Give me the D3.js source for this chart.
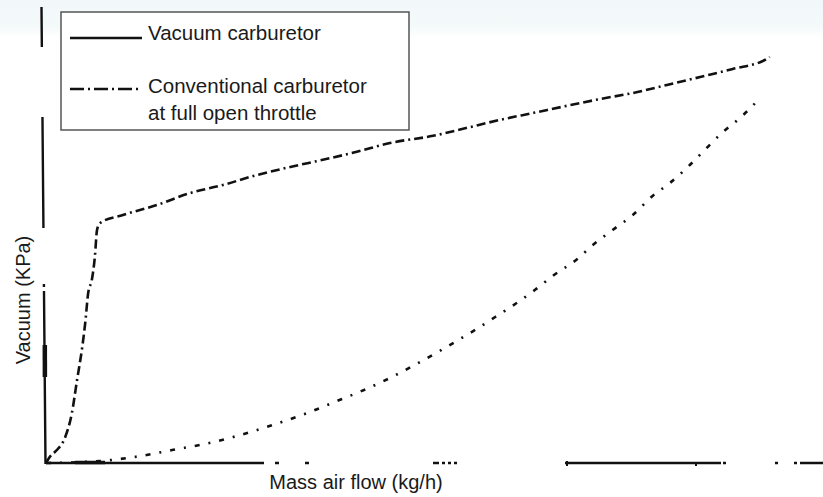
<!DOCTYPE html>
<html>
<head>
<meta charset="utf-8">
<script src="https://cdn.jsdelivr.net/npm/d3@7"></script>
<style>
  html, body { margin: 0; padding: 0; background: #fff; }
  svg { display: block; }
  text { font-family: "Liberation Sans", Arial, Helvetica, sans-serif; fill: #1a1a1a; }
</style>
</head>
<body>
<svg id="chart" width="823" height="497"></svg>
<script>
// ---- data (arbitrary units; no numeric ticks in the original) ----
const vacuumX = [0, 0.5, 1.5, 2.6, 3.5, 4.2, 4.9, 5.3, 5.7, 6.2, 6.6, 6.9, 7.3, 10.4, 15, 19.5, 23.9, 28.5, 33, 37.4, 42, 46.5, 52.3, 56.9, 61.4, 65.8, 70.4, 74.9, 79.3, 83.9, 88.4, 92.8, 97.4, 97.8];
const vacuumY = [0, 1.5, 3.3, 6.5, 12.5, 20.8, 29, 35, 42.5, 45.8, 51.5, 58.3, 60, 62, 64.5, 67.5, 69.5, 72, 74, 75.8, 77.8, 80, 81.8, 83.8, 85.8, 87.5, 89.3, 91, 92.5, 94.5, 96.5, 98.5, 101, 101.5];
const conventionalX = [0, 7.3, 13.6, 17.2, 20.8, 25.3, 30.3, 35.3, 40, 42.4, 47.6, 50.3, 53, 55.5, 58.2, 60.7, 63.6, 66.1, 68.5, 71.8, 73.9, 76.6, 79.3, 82, 84.3, 87, 89.3, 91.5, 93.8, 96.2, 96.5];
const conventionalY = [0, 0.5, 2, 3.3, 4.5, 6.5, 9.3, 12.5, 16, 17.8, 22.3, 25, 27.8, 30.5, 33.5, 36.5, 40, 43.3, 46.8, 51, 54.5, 58.3, 62, 66.8, 70, 74.5, 78.8, 82.8, 86.3, 90.8, 91.5];
const seriesNames = ["Vacuum carburetor", "Conventional carburetor", "at full open throttle"];
const xTitle = "Mass air flow (kg/h)";
const yTitle = "Vacuum (KPa)";

// ---- drawing ----
const svg = d3.select("#chart");
const W = 823, H = 497;

// faint tinted band at the top of the scan
const defs = svg.append("defs");
const grad = defs.append("linearGradient").attr("id", "topband")
  .attr("x1", 0).attr("y1", 0).attr("x2", 0).attr("y2", 1);
grad.append("stop").attr("offset", "0%").attr("stop-color", "#f2f8fa");
grad.append("stop").attr("offset", "70%").attr("stop-color", "#f4f9fa");
grad.append("stop").attr("offset", "100%").attr("stop-color", "#ffffff");
svg.append("rect").attr("x", 0).attr("y", 0).attr("width", W).attr("height", 38).attr("fill", "url(#topband)");

const x = d3.scaleLinear().domain([0, 100]).range([46, 786]);
const y = d3.scaleLinear().domain([0, 100]).range([463, 63]);

// y axis (scanned, broken, slightly skewed)
svg.append("line")
  .attr("x1", 41.5).attr("y1", 7).attr("x2", 45.5).attr("y2", y(0) + 1)
  .attr("stroke", "#111").attr("stroke-width", 2.4)
  .attr("stroke-dasharray", "40,70,111,56,3,4,200");
svg.append("line")
  .attr("x1", 44.8).attr("y1", 345).attr("x2", 44.9).attr("y2", 377)
  .attr("stroke", "#111").attr("stroke-width", 4.5);

// x axis (scanned, broken)
svg.append("line")
  .attr("x1", x(0)).attr("y1", y(0)).attr("x2", W).attr("y2", y(0))
  .attr("stroke", "#111").attr("stroke-width", 2.6)
  .attr("stroke-dasharray", "218,11,4,26,4,124,6,3,3,3,3,3,3,108,156,2,3,49,3,16,3,3,40");
svg.append("line")
  .attr("x1", 75).attr("y1", y(0) - 0.5).attr("x2", 105).attr("y2", y(0) - 0.5)
  .attr("stroke", "#111").attr("stroke-width", 3.5);
svg.append("line").attr("x1", 567).attr("y1", y(0) - 2).attr("x2", 567).attr("y2", y(0) + 3)
  .attr("stroke", "#111").attr("stroke-width", 2);
svg.append("line").attr("x1", 696).attr("y1", y(0)).attr("x2", 696).attr("y2", y(0) + 3)
  .attr("stroke", "#111").attr("stroke-width", 2);

const line = d3.line().x(d => x(d[0])).y(d => y(d[1])).curve(d3.curveMonotoneX);

svg.append("path")
  .datum(d3.zip(vacuumX, vacuumY))
  .attr("d", line)
  .attr("fill", "none").attr("stroke", "#111").attr("stroke-width", 2.6)
  .attr("stroke-dasharray", "9,4,9,4,2,4");

svg.append("path")
  .datum(d3.zip(conventionalX, conventionalY))
  .attr("d", line)
  .attr("fill", "none").attr("stroke", "#111").attr("stroke-width", 2.6)
  .attr("stroke-dasharray", "5,9,2,9");

// legend
const lg = svg.append("g");
lg.append("rect").attr("x", 61).attr("y", 12).attr("width", 348).attr("height", 118)
  .attr("fill", "#fff").attr("stroke", "#555").attr("stroke-width", 1.5);
lg.append("line").attr("x1", 70).attr("x2", 142).attr("y1", 38).attr("y2", 38)
  .attr("stroke", "#111").attr("stroke-width", 2.5);
lg.append("line").attr("x1", 70).attr("x2", 142).attr("y1", 89).attr("y2", 89)
  .attr("stroke", "#111").attr("stroke-width", 2.5)
  .attr("stroke-dasharray", "14,4,2,4");
lg.append("text").attr("x", 148).attr("y", 40).attr("font-size", 20.5).text(seriesNames[0]);
lg.append("text").attr("x", 148).attr("y", 93).attr("font-size", 20.5).text(seriesNames[1]);
lg.append("text").attr("x", 148).attr("y", 120).attr("font-size", 20.5).text(seriesNames[2]);

// axis titles
svg.append("text").attr("x", 356).attr("y", 489).attr("text-anchor", "middle")
  .attr("font-size", 20).text(xTitle);
svg.append("text").attr("transform", "translate(30,300) rotate(-90)")
  .attr("text-anchor", "middle").attr("font-size", 20).text(yTitle);
</script>
</body>
</html>
